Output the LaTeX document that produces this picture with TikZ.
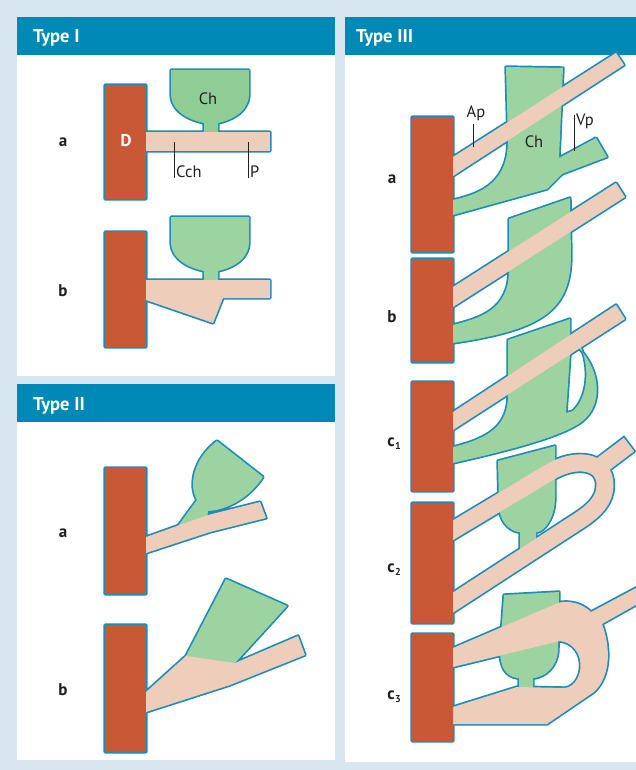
\documentclass[tikz,border=0pt]{standalone}
\usepackage{fontspec}
\setmainfont{PT Sans}
\definecolor{pagebg}{HTML}{D8E7EF}
\definecolor{headbg}{HTML}{0089B6}
\definecolor{outl}{HTML}{1A8DBA}
\definecolor{dred}{HTML}{C95836}
\definecolor{grn}{HTML}{9DD3A1}
\definecolor{grnA}{HTML}{90CD94}
\definecolor{pnk}{HTML}{EFCDBB}
\definecolor{ink}{HTML}{231F20}

% --- Type I ---
\def\IaD{(105,85) rectangle (146,199)}
\def\IaBar{(146,132) rectangle (270,151)}
\def\IaCup{(171,70) -- (249,70) -- (249,95) .. controls (248,114) and (228,121) .. (218,123) -- (218,134) -- (204,134) -- (204,123) .. controls (194,121) and (172,114) .. (171,95) -- cycle}
\def\IbD{(105,232) rectangle (146,347)}
\def\IbBar{(146,280) -- (270,280) -- (270,298) -- (223,298) -- (213,323) -- (146,300) -- cycle}
\def\IbCup{(171,217) -- (249,217) -- (249,243) .. controls (248,262) and (228,269) .. (218,271) -- (218,283) -- (204,283) -- (204,271) .. controls (194,269) and (172,262) .. (171,243) -- cycle}
% --- Type II ---
\def\IIaD{(105,468) rectangle (146,594)}
\def\IIaBar{(146,537) -- (208,515) -- (260,502) -- (266,518) -- (210,532) -- (146,553) -- cycle}
\def\IIaCh{(175,530) -- (197,500) .. controls (188,485) and (194,458) .. (217,441) -- (263,477) .. controls (250,497) and (228,510) .. (208,511) -- (207,519) -- cycle}
\def\IIbD{(105,625) rectangle (146,752)}
\def\IIbBar{(146,692) -- (186,656) -- (235,663) -- (298,636) -- (305,655) -- (230,685) -- (146,712) -- cycle}
\def\IIbCh{(186,656) -- (226,579) -- (287,606) -- (235,663) -- (238,670) -- (182,663) -- cycle}
% --- Type III ---
\def\IIIaD{(412,117) rectangle (453,252)}
\def\IIIaBar{(453,157) -- (616,53) -- (624,65) -- (453,176) -- cycle}
\def\IIIaCh{(506,67) -- (563,68) -- (559,158) -- (596,138) -- (607,157) -- (562,174) -- (547,189) -- (453,215) -- (453,200) .. controls (485,193) and (508,180) .. (508,140) -- cycle}
\def\IIIbD{(412,259) rectangle (453,362)}
\def\IIIbBar{(453,287) -- (616,183) -- (625,197) -- (453,307) -- cycle}
\def\IIIbCh{(509,219) -- (570,198) -- (571,255) .. controls (571,312) and (540,330) .. (453,343) -- (453,325) .. controls (480,318) and (509,310) .. (509,270) -- cycle}
\def\IIIcOneD{(412,382) rectangle (453,491)}
\def\IIIcOneBar{(453,412) -- (616,305) -- (625,319) -- (453,430) -- cycle}
\def\IIIcOneCh{(508,340) -- (570,319) -- (570,338) -- (576,345) .. controls (600,368) and (603,400) .. (586,418) .. controls (570,435) and (510,450) .. (453,463) -- (453,447) .. controls (490,438) and (508,425) .. (508,395) -- cycle}
\def\IIIcOneHole{(571,340) -- (566,413) -- (573,411) .. controls (590,395) and (590,360) .. (577,340) -- cycle}
\def\IIIcTwoD{(412,503) rectangle (453,623)}
\def\IIIcTwoLoop{(440,538) -- (550,472) .. controls (575,457) and (605,460) .. (605,485) .. controls (605,500) and (595,510) .. (580,520) -- (440,611)}
\def\IIIcTwoBranch{(598,468) -- (629,444.5)}
\def\IIIcTwoCup{(498,461) -- (555,446) -- (555,497) .. controls (555,518) and (545,530) .. (538,532) -- (536,532) -- (536,556) -- (520,556) -- (520,532) -- (518,532) .. controls (508,530) and (499,520) .. (499,505) -- cycle}
\def\IIIcThreeD{(412,634) rectangle (453,741)}
\def\IIIcThreeCup{(504,595) -- (559,592) -- (558,650) .. controls (557,668) and (545,676) .. (535,678) -- (533,678) -- (533,691) -- (519,691) -- (519,678) -- (517,678) .. controls (506,676) and (500,668) .. (500,650) -- cycle}
\def\IIIcThreePink{(453,648) -- (558,603) -- (562,602) .. controls (575,601) and (585,606) .. (591,612) -- (650,580.5) -- (650,597) -- (602,624) .. controls (610,645) and (612,675) .. (594,692) -- (547,724) -- (453,724) -- (453,707) -- (517,687) -- (565,688) .. controls (585,685) and (588,645) .. (560,641) -- (453,667) -- cycle}

\begin{document}
\begin{tikzpicture}[x=1pt,y=-1pt,
  ol/.style={draw=outl,line width=3.4pt,line join=round},
  tubeline/.style={draw=outl,line width=20.4pt},
  tubefill/.style={draw=pnk,line width=17pt},
  head/.style={text=white,font=\fontsize{18.5}{20}\selectfont\bfseries,inner sep=0pt,anchor=base west},
  lab/.style={text=ink,font=\fontsize{17}{20}\selectfont\bfseries,inner sep=0pt,anchor=base},
  term/.style={text=ink,font=\fontsize{16.5}{19}\selectfont,inner sep=0pt,anchor=base},
  leader/.style={draw=ink,line width=0.8pt}]
\useasboundingbox (0,0) rectangle (636,770);
\fill[pagebg] (0,0) rectangle (636,770);

% panels and their title bars
\fill[white] (17,17) rectangle (335,376);
\fill[headbg] (17,17) rectangle (335,55);
\fill[white] (17,384) rectangle (335,760);
\fill[headbg] (17,384) rectangle (335,422);
\fill[white] (345,17) rectangle (636,762);
\fill[headbg] (345,17) rectangle (636,55);
\node[head] (h1) at (33,43) {Type I};
\node[head] (h2) at (33,410) {Type II};
\node[head] (h3) at (356,43) {Type III};

% ---------- Type I ----------
\draw[ol] \IaD \IaBar \IaCup;
\fill[grnA] \IaCup;
\fill[pnk] \IaBar;
\fill[dred] \IaD;
\draw[ol] \IbD \IbBar \IbCup;
\fill[grn] \IbCup;
\fill[pnk] \IbBar;
\fill[dred] \IbD;
\node[lab] (Ia) at (63,147) {a};
\node[lab] (Ib) at (63,296) {b};
\node[lab,text=white] (D) at (126,147) {D};
\node[term] (ChI) at (208,105) {Ch};
\node[term,anchor=base west] (Cch) at (176,178) {Cch};
\node[term,anchor=base west] (P) at (250,178) {P};
\coordinate (cchTop) at (174,142);
\coordinate (cchBot) at (174,178);
\coordinate (pTop) at (248,142);
\coordinate (pBot) at (248,178);
\draw[leader] (cchTop) -- (cchBot);
\draw[leader] (pTop) -- (pBot);

% ---------- Type II ----------
\draw[ol] \IIaD \IIaBar \IIaCh;
\fill[grn] \IIaCh;
\fill[pnk] \IIaBar;
\fill[dred] \IIaD;
\draw[ol] \IIbD \IIbBar \IIbCh;
\fill[grn] \IIbCh;
\fill[pnk] \IIbBar;
\fill[dred] \IIbD;
\node[lab] (IIa) at (63,537) {a};
\node[lab] (IIb) at (63,695) {b};

% ---------- Type III ----------
% a
\draw[ol] \IIIaD \IIIaBar \IIIaCh;
\fill[grn] \IIIaCh;
\fill[pnk] \IIIaBar;
\fill[dred] \IIIaD;
% b
\draw[ol] \IIIbD \IIIbBar \IIIbCh;
\fill[grn] \IIIbCh;
\fill[pnk] \IIIbBar;
\fill[dred] \IIIbD;
% c1
\draw[ol] \IIIcOneD \IIIcOneBar \IIIcOneCh \IIIcOneHole;
\fill[grn,even odd rule] \IIIcOneCh \IIIcOneHole;
\fill[pnk] \IIIcOneBar;
\fill[dred] \IIIcOneD;
% c2
\draw[ol] \IIIcTwoD \IIIcTwoCup;
\draw[tubeline] \IIIcTwoLoop;
\draw[tubeline,shorten >=-1.7pt] \IIIcTwoBranch;
\fill[grn] \IIIcTwoCup;
\draw[tubefill] \IIIcTwoLoop;
\draw[tubefill] \IIIcTwoBranch;
\fill[dred] \IIIcTwoD;
% c3
\draw[ol] \IIIcThreeD \IIIcThreeCup \IIIcThreePink;
\fill[grn] \IIIcThreeCup;
\fill[pnk] \IIIcThreePink;
\fill[dred] \IIIcThreeD;

\node[lab] (IIIa) at (392,183) {a};
\node[lab] (IIIb) at (392,322) {b};
\node[lab] (IIIc1) at (394,446) {c\kern0.3pt\raisebox{-3.5pt}{\fontsize{10}{10}\selectfont 1}};
\node[lab] (IIIc2) at (394,572) {c\kern0.3pt\raisebox{-3.5pt}{\fontsize{10}{10}\selectfont 2}};
\node[lab] (IIIc3) at (394,699) {c\kern0.3pt\raisebox{-3.5pt}{\fontsize{10}{10}\selectfont 3}};
\node[term] (Ap) at (476,118) {Ap};
\node[term] (ChIII) at (534,148) {Ch};
\node[term,anchor=base west] (Vp) at (576,126) {Vp};
\coordinate (apTop) at (473,124);
\coordinate (apBot) at (473,147);
\coordinate (vpTop) at (574,115);
\coordinate (vpBot) at (574,151);
\draw[leader] (apTop) -- (apBot);
\draw[leader] (vpTop) -- (vpBot);
\end{tikzpicture}
\end{document}
